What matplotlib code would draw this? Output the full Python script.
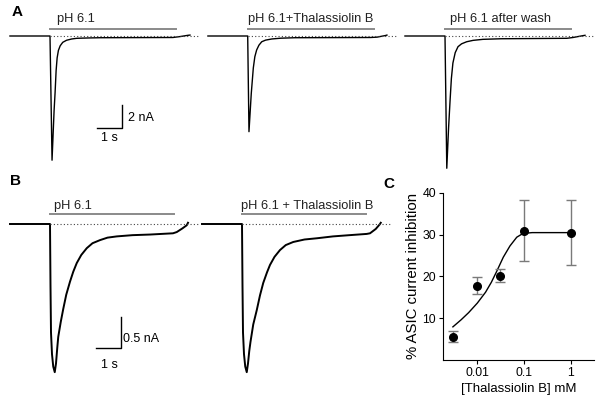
import numpy as np
import matplotlib
matplotlib.use('Agg')
import matplotlib.pyplot as plt

plt.rcParams['font.family'] = ['Liberation Sans', 'DejaVu Sans']

W, H = 600, 409

# --- panel A traces: time (s, from pH step) / current (nA)
a1_t = [-1.57, 0.0, 0.08, 0.16, 0.2, 0.24, 0.28, 0.33, 0.4, 0.5, 0.65, 0.85, 1.05, 1.5, 1.96,
        4.82, 5.1, 5.41, 5.49]
a1_i = [0.0, 0.0, -10.8, -6.5, -4.9, -3.0, -1.9, -1.25, -0.85, -0.55, -0.37, -0.26, -0.2, -0.17,
        -0.15, -0.13, -0.05, 0.06, 0.08]
a2_t = [-1.56, 0.0, 0.05, 0.14, 0.22, 0.28, 0.35, 0.44, 0.55, 0.7, 0.94, 1.3, 1.85, 4.82, 5.07,
        5.4, 5.46]
a2_i = [0.0, 0.0, -8.32, -5.0, -2.78, -1.8, -1.22, -0.8, -0.5, -0.36, -0.26, -0.19, -0.15, -0.13,
        -0.1, 0.04, 0.08]
a3_t = [-1.57, 0.0, 0.07, 0.14, 0.2, 0.25, 0.31, 0.4, 0.51, 0.65, 0.85, 1.1, 1.49, 2.2, 4.78,
        5.02, 5.41, 5.49]
a3_i = [0.0, 0.0, -11.5, -8.0, -5.57, -3.7, -2.35, -1.45, -0.93, -0.68, -0.5, -0.38, -0.29, -0.24,
        -0.2, -0.13, 0.03, 0.06]
a_labels = ['pH 6.1', 'pH 6.1+Thalassiolin B', 'pH 6.1 after wash']

# --- panel B traces
b1_t = [-1.6, 0.0, 0.02, 0.04, 0.08, 0.13, 0.19, 0.24, 0.29, 0.33, 0.43, 0.53, 0.65, 0.8, 0.93,
        1.07, 1.25, 1.47, 1.7, 2.0, 2.3, 2.67, 3.3, 4.0, 4.92, 5.07, 5.3, 5.47, 5.52]
b1_i = [0.0, 0.0, -1.0, -1.75, -2.1, -2.3, -2.39, -2.25, -2.0, -1.82, -1.58, -1.37, -1.14, -0.93,
        -0.77, -0.63, -0.5, -0.39, -0.31, -0.26, -0.22, -0.2, -0.18, -0.17, -0.15, -0.13, -0.07,
        -0.02, 0.02]
b2_t = [-1.6, 0.0, 0.02, 0.04, 0.08, 0.13, 0.19, 0.24, 0.29, 0.34, 0.45, 0.59, 0.72, 0.85, 1.0,
        1.12, 1.3, 1.52, 1.75, 2.05, 2.5, 3.0, 3.64, 4.3, 4.99, 5.12, 5.35, 5.52, 5.55]
b2_i = [0.0, 0.0, -1.0, -1.75, -2.1, -2.3, -2.39, -2.25, -2.05, -1.9, -1.62, -1.39, -1.15, -0.95,
        -0.78, -0.66, -0.53, -0.42, -0.34, -0.29, -0.25, -0.23, -0.2, -0.18, -0.16, -0.15, -0.08,
        0.0, 0.02]
b_labels = ['pH 6.1', 'pH 6.1 + Thalassiolin B']

# --- panel C dose response
conc = [0.003, 0.01, 0.03, 0.1, 1.0]
inhib = [5.5, 17.8, 20.2, 31.0, 30.5]
inhib_err = [1.35, 2.1, 1.65, 7.3, 7.8]
fit_x = [0.003, 0.0045, 0.0065, 0.01, 0.015, 0.02, 0.026, 0.036, 0.05, 0.07, 0.095, 0.15, 1.0]
fit_y = [7.9, 9.6, 11.3, 13.6, 16.2, 18.6, 21.2, 24.6, 27.3, 29.4, 30.3, 30.5, 30.5]


def trace_axes(fig, onset_px, base_px, px_s, px_na, trange, irange):
    left = onset_px + trange[0] * px_s
    width = (trange[1] - trange[0]) * px_s
    top = base_px - irange[1] * px_na
    height = (irange[1] - irange[0]) * px_na
    ax = fig.add_axes([left / W, 1 - (top + height) / H, width / W, height / H])
    ax.set_xlim(*trange)
    ax.set_ylim(*irange)
    ax.axis('off')
    return ax


def draw_trace(ax, t, i, label, bar_y, text_x, text_y, dot_end, lw=1.0):
    ax.plot(t, i, color='black', lw=lw, clip_on=False, solid_joinstyle='round')
    ax.plot([0, dot_end], [0, 0], color='#444444', lw=0.8, ls=(0, (1, 2)), clip_on=False)
    ax.plot([0, 4.95], [bar_y, bar_y], color='#8a8a8a', lw=1.4, clip_on=False)
    ax.text(text_x, text_y, label, fontsize=9.3, color='#222222', va='baseline', clip_on=False)


fig = plt.figure(figsize=(W / 100, H / 100), dpi=100)

# Panel A
a_onsets = [50, 247.7, 445]
a_traces = [(a1_t, a1_i), (a2_t, a2_i), (a3_t, a3_i)]
a_text_x = [0.27, 0.0, 0.2]
for k in range(3):
    ax = trace_axes(fig, a_onsets[k], 36, 25.5, 11.5, (-1.8, 6.2), (-13, 2.5))
    draw_trace(ax, a_traces[k][0], a_traces[k][1], a_labels[k], 0.58, a_text_x[k], 1.24, 5.85)
    if k == 0:
        ax.plot([1.83, 2.83, 2.83], [-7.97, -7.97, -5.97], color='black', lw=1.0)
        ax.text(3.06, -7.1, '2 nA', fontsize=9, va='center')
        ax.text(2.33, -8.9, '1 s', fontsize=9, va='center', ha='center')

# Panel B
b_onsets = [50, 242]
b_traces = [(b1_t, b1_i), (b2_t, b2_i)]
b_text_x = [0.16, -0.05]
for k in range(2):
    ax = trace_axes(fig, b_onsets[k], 224, 25, 62, (-1.8, 6.2), (-2.65, 0.6))
    draw_trace(ax, b_traces[k][0], b_traces[k][1], b_labels[k], 0.16, b_text_x[k], 0.25,
               5.95, lw=1.4)
    if k == 0:
        ax.plot([1.84, 2.84, 2.84], [-2.0, -2.0, -1.5], color='black', lw=1.0)
        ax.text(2.92, -1.85, '0.5 nA', fontsize=9, va='center')
        ax.text(2.36, -2.27, '1 s', fontsize=9, va='center', ha='center')

# Panel C
axc = fig.add_axes([443 / W, 1 - 359.8 / H, 151 / W, 166.8 / H])
axc.set_xscale('log')
axc.plot(fit_x, fit_y, color='black', lw=1.0)
axc.errorbar(conc, inhib, yerr=inhib_err, fmt='o', color='black', ms=5.5,
             ecolor='#7a7a7a', elinewidth=1.0, capsize=3.5, capthick=1.0)
axc.set_xlim(0.00184, 3.16)
axc.set_ylim(0, 40)
axc.set_yticks([10, 20, 30, 40])
axc.set_xticks([0.01, 0.1, 1])
axc.set_xticklabels(['0.01', '0.1', '1'])
axc.xaxis.set_minor_locator(matplotlib.ticker.NullLocator())
for s in ['top', 'right']:
    axc.spines[s].set_visible(False)
for s in ['left', 'bottom']:
    axc.spines[s].set_linewidth(0.8)
axc.tick_params(labelsize=8.8, length=3, width=0.8, pad=2)
axc.set_ylabel('% ASIC current inhibition', fontsize=10.8, labelpad=2)
axc.set_xlabel('[Thalassiolin B] mM', fontsize=9.5, labelpad=3)

# panel letters
fig.text(12 / W, 1 - 16 / H, 'A', fontsize=11, fontweight='bold')
fig.text(10 / W, 1 - 185 / H, 'B', fontsize=11, fontweight='bold')
fig.text(383 / W, 1 - 188 / H, 'C', fontsize=11, fontweight='bold')

fig.savefig('out.png', dpi=100)
